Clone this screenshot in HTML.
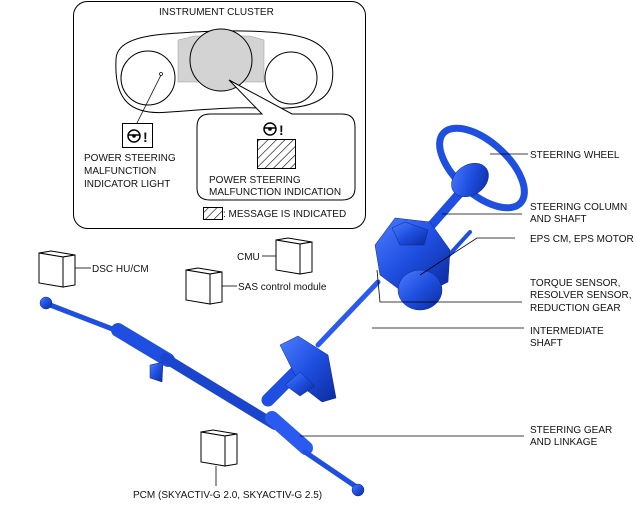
<!DOCTYPE html>
<html><head><meta charset="utf-8"><style>
html,body{margin:0;padding:0;background:#fff}
svg{display:block}
text{font-family:"Liberation Sans",sans-serif;font-size:10px;fill:#111}
</style></head><body>
<svg width="637" height="520" viewBox="0 0 637 520" xmlns="http://www.w3.org/2000/svg">
<defs>
<pattern id="h" width="6" height="6" patternUnits="userSpaceOnUse" patternTransform="rotate(45)">
<rect width="6" height="6" fill="#fff"/><line x1="0" y1="0" x2="0" y2="6" stroke="#000" stroke-width="1.2"/></pattern>
<linearGradient id="b" x1="0" y1="0" x2="1" y2="1"><stop offset="0" stop-color="#4d7cff"/><stop offset="0.5" stop-color="#1f4fe0"/><stop offset="1" stop-color="#0b2a9c"/></linearGradient>
<g id="box" fill="#fff" stroke="#000" stroke-width="1">
<polygon points="39,253 51,251 75,255 63,257"/>
<polygon points="39,253 63,257 63,287 39,283"/>
<polygon points="63,257 75,255 75,285 63,287"/>
</g>
</defs>
<!-- instrument cluster -->
<rect x="73.5" y="1.5" width="292" height="227" rx="14" fill="#fff" stroke="#000"/>
<text x="159" y="15">INSTRUMENT CLUSTER</text>
<path d="M116,60 C116,35 160,34 195,32 C230,30 280,30 305,38 C330,46 335,65 332,82 C328,105 300,110 260,108 C230,107 200,110 170,112 C130,116 114,100 116,60Z" fill="#fff" stroke="#000"/>
<path d="M178,40 L195,36 L250,36 L264,40 L264,82 L178,82Z" fill="#d3d3d3" stroke="#999" stroke-width="0.5"/>
<circle cx="148" cy="78" r="27" fill="#fff" stroke="#000"/>
<circle cx="221" cy="60" r="31" fill="#d3d3d3" stroke="#000"/>
<circle cx="291" cy="78" r="26" fill="#fff" stroke="#000"/>
<circle cx="161" cy="74" r="1.5" fill="#fff" stroke="#000" stroke-width="0.7"/>
<line x1="161" y1="75" x2="137" y2="123" stroke="#000" stroke-width="0.8"/>
<rect x="122.5" y="123.5" width="30" height="24" fill="#fff" stroke="#000"/>
<circle cx="134" cy="136" r="6" fill="none" stroke="#000" stroke-width="1.5"/><circle cx="134" cy="136" r="1.8"/><line x1="128" y1="135" x2="140" y2="135" stroke="#000" stroke-width="1.5"/>
<text x="143" y="142" style="font-size:14px;font-weight:bold">!</text>
<text x="84" y="161">POWER STEERING</text><text x="84" y="174">MALFUNCTION</text><text x="84" y="187">INDICATOR LIGHT</text>
<path d="M210,114 L262,114 L229,80 L292,114 L342,114 Q355,114 355,127 L355,188 Q355,200 342,200 L210,200 Q197,200 197,188 L197,127 Q197,114 210,114Z" fill="#fff" stroke="#000"/>
<circle cx="270" cy="129" r="6" fill="none" stroke="#000" stroke-width="1.5"/><circle cx="270" cy="129" r="1.8"/><line x1="264" y1="128" x2="276" y2="128" stroke="#000" stroke-width="1.5"/>
<text x="279" y="135" style="font-size:14px;font-weight:bold">!</text>
<rect x="257.5" y="139.5" width="38" height="29" fill="url(#h)" stroke="#000"/>
<text x="209" y="183">POWER STEERING</text><text x="209" y="195">MALFUNCTION INDICATION</text>
<rect x="203.5" y="207.5" width="19" height="12" fill="url(#h)" stroke="#000"/>
<text x="223" y="217">: MESSAGE IS INDICATED</text>
<!-- modules -->
<use href="#box"/>
<use href="#box" transform="translate(237,-13)"/>
<use href="#box" transform="translate(147,17)"/>
<use href="#box" transform="translate(162,179)"/>
<line x1="75" y1="268" x2="91" y2="268" stroke="#000" stroke-width="0.8"/><text x="92" y="272">DSC HU/CM</text>
<line x1="262" y1="256" x2="276" y2="256" stroke="#000" stroke-width="0.8"/><text x="237" y="260">CMU</text>
<line x1="222" y1="286" x2="237" y2="286" stroke="#000" stroke-width="0.8"/><text x="238" y="290">SAS control module</text>
<line x1="216" y1="466" x2="216" y2="486" stroke="#000" stroke-width="0.8"/><text x="133" y="498">PCM (SKYACTIV-G 2.0, SKYACTIV-G 2.5)</text>
<!-- blue parts -->
<g stroke-linecap="round" fill="none">
<line x1="45" y1="303" x2="115" y2="330" stroke="#1f4fe0" stroke-width="5"/>
<line x1="118" y1="330" x2="168" y2="360" stroke="#1f4fe0" stroke-width="14"/>
<line x1="165" y1="358" x2="275" y2="425" stroke="#1a45cc" stroke-width="10"/>
<line x1="272" y1="418" x2="306" y2="448" stroke="#2a5af0" stroke-width="14"/>
<line x1="305" y1="452" x2="358" y2="488" stroke="#1f4fe0" stroke-width="5"/>
<line x1="318" y1="345" x2="378" y2="282" stroke="#2a5af0" stroke-width="5"/>
<line x1="422" y1="236" x2="466" y2="186" stroke="#1f4fe0" stroke-width="9"/>
<line x1="440" y1="265" x2="470" y2="232" stroke="#1f4fe0" stroke-width="4"/>
<line x1="268" y1="400" x2="298" y2="370" stroke="#1f4fe0" stroke-width="13"/>
<ellipse cx="482" cy="168" rx="52" ry="26" transform="rotate(42 482 168)" stroke="#1f4fe0" stroke-width="7"/>
</g>
<g stroke="#0a2490" stroke-width="0.5" fill="url(#b)">
<circle cx="46" cy="303" r="6"/>
<circle cx="358" cy="490" r="6"/>
<path d="M150,365 L163,362 L162,382 L150,378Z"/>
<path d="M280,345 L298,336 L328,355 L336,398 L322,402 L300,385Z"/>
<path d="M285,385 L300,372 L315,386 L300,396Z"/>
<path d="M375,245 L395,218 L430,222 L450,250 L448,282 L432,290 L400,290 L380,275Z"/>
<ellipse cx="420" cy="290" rx="22" ry="20"/>
<path d="M392,228 L405,222 L428,230 L424,245 L400,245Z"/>
<ellipse cx="470" cy="180" rx="20" ry="15" transform="rotate(-35 470 180)"/>
</g>
<!-- right labels -->
<g stroke="#000" stroke-width="0.8" fill="none">
<line x1="490" y1="154" x2="528" y2="154"/>
<line x1="442" y1="214" x2="522" y2="214"/>
<polyline points="515,238 477,238 420,275"/>
<polyline points="522,302 380,302 377,270"/>
<line x1="372" y1="328" x2="524" y2="328"/>
<line x1="300" y1="436" x2="524" y2="436"/>
</g>
<text x="530" y="158">STEERING WHEEL</text>
<text x="530" y="210">STEERING COLUMN</text><text x="530" y="222">AND SHAFT</text>
<text x="530" y="242">EPS CM, EPS MOTOR</text>
<text x="530" y="286">TORQUE SENSOR,</text><text x="530" y="298">RESOLVER SENSOR,</text><text x="530" y="311">REDUCTION GEAR</text>
<text x="530" y="334">INTERMEDIATE</text><text x="530" y="346">SHAFT</text>
<text x="530" y="433">STEERING GEAR</text><text x="530" y="445">AND LINKAGE</text>
</svg>
</body></html>
